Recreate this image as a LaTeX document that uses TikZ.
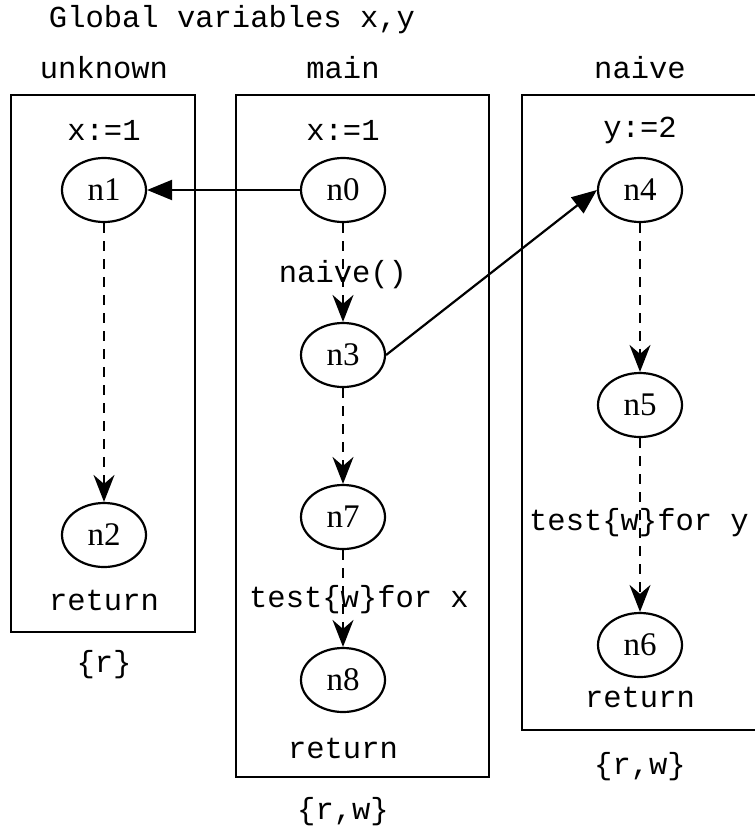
\documentclass[tikz,border=0pt]{standalone}
\usepackage{fontspec}
\setmainfont{Liberation Serif}
\newfontfamily\cour{Liberation Mono}
\usetikzlibrary{arrows.meta,shapes.geometric}
\begin{document}
\begin{tikzpicture}[x=1pt,y=-1pt,
  frame/.style={draw,line width=2.2pt},
  vertex/.style={ellipse,draw,line width=2.2pt,minimum width=84pt,minimum height=64pt,inner sep=0pt,font=\fontsize{33}{36}\selectfont},
  txt/.style={font=\cour\fontsize{30.5}{34}\selectfont,inner sep=0pt,anchor=center},
  call/.style={line width=2.2pt,-{Triangle[length=25pt,width=20pt]}},
  flow/.style={line width=2.2pt,dash pattern=on 10pt off 8pt,-{Stealth[length=27pt,width=21pt,inset=9pt]}}]
\useasboundingbox (0,0) rectangle (755,830);
\begin{scope}
\clip (0,0) rectangle (755,830);
% procedure frames
\draw[frame] (11,95) rectangle (195,632);
\draw[frame] (236,95) rectangle (489,777);
\draw[frame] (522,95) rectangle (770,730);
\end{scope}
% headings
\node[txt] (glob) at (232,20) {Global variables x,y};
\node[txt] (tunk) at (104,68) {unknown};
\node[txt] (tmain) at (343,68) {main};
\node[txt] (tnaive) at (640,68) {naive};
% assignments
\node[txt] (a1) at (104,130) {x:=1};
\node[txt] (a0) at (343,130) {x:=1};
\node[txt] (a4) at (640,130) {y:=2};
% nodes
\node[vertex] (n1) at (104,190) {n1};
\node[vertex] (n2) at (104,535) {n2};
\node[vertex] (n0) at (343,190) {n0};
\node[vertex] (n3) at (343,355) {n3};
\node[vertex] (n7) at (343,517) {n7};
\node[vertex] (n8) at (343,680) {n8};
\node[vertex] (n4) at (640,190) {n4};
\node[vertex] (n5) at (640,405) {n5};
\node[vertex] (n6) at (640,645) {n6};
% returns and summaries
\node[txt] (r1) at (104,600) {return};
\node[txt] (r0) at (343,748) {return};
\node[txt] (r4) at (640,697) {return};
\node[txt] (s1) at (104,665) {\{r\}};
\node[txt] (s0) at (343,812) {\{r,w\}};
\node[txt] (s4) at (640,767) {\{r,w\}};
% edge labels
\node[txt] (l03) at (343,275) {naive()};
\node[txt] (l78) at (359,600) {test\{w\}for x};
\node[txt] (l56) at (639,523) {test\{w\}for y};
% calls
\draw[call] (n0.west) -- (n1.east);
\draw[call] (n3.east) -- (n4.west);
% intra-procedural flow
\draw[flow] (n1.south) -- (n2.north);
\draw[flow] (n0.south) -- (n3.north);
\draw[flow] (n3.south) -- (n7.north);
\draw[flow] (n7.south) -- (n8.north);
\draw[flow] (n4.south) -- (n5.north);
\draw[flow] (n5.south) -- (n6.north);
\end{tikzpicture}
\end{document}
